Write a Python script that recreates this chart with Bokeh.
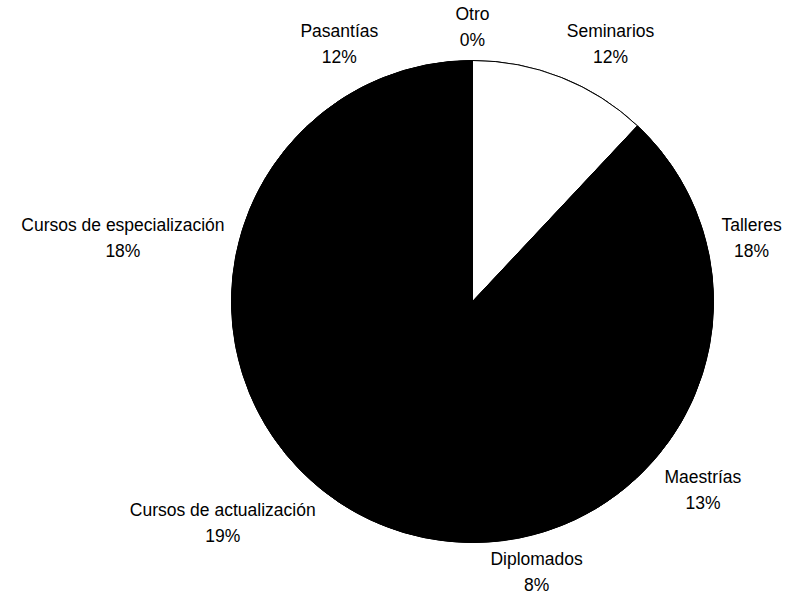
import math
import numpy as np
from bokeh.plotting import figure
from bokeh.models import ColumnDataSource
from bokeh.core.properties import value
from bokeh.embed import file_html
from bokeh.resources import INLINE

# ---- data ----
categories = ["Seminarios", "Talleres", "Maestrías", "Diplomados",
              "Cursos de actualización", "Cursos de especialización",
              "Pasantías", "Otro"]
percents = [12, 18, 13, 8, 19, 18, 12, 0]

# ---- style / layout ----
W, H = 786, 597
CX, CY = 472, 296          # pie centre in plot pixels (y up)
R = 241                    # pie radius
RL = R + 15                # label anchor radius
FS = 17.5                  # font size px
LH = 1.3
HALF_H = 19                # half height of a two-line label block
FONT = "Liberation Sans"
HIGHLIGHT = {"Seminarios": "white"}

# Arial / Liberation Sans advance widths (1/1000 em)
CW = {" ": 278, "%": 889, "a": 556, "b": 556, "c": 500, "d": 556, "e": 556,
      "f": 278, "g": 556, "h": 556, "i": 222, "j": 222, "k": 500, "l": 222,
      "m": 833, "n": 556, "o": 556, "p": 556, "q": 556, "r": 333, "s": 500,
      "t": 278, "u": 556, "v": 500, "w": 722, "x": 500, "y": 500, "z": 500,
      "í": 278, "ó": 556, "C": 722, "D": 722, "M": 833, "O": 778, "P": 667,
      "S": 667, "T": 611}


def text_width(t):
    return sum(CW.get(ch, 556) for ch in t) / 1000.0 * FS


p = figure(width=W, height=H, x_range=(0, W), y_range=(0, H),
           output_backend="svg", toolbar_location=None, min_border=0,
           x_axis_type=None, y_axis_type=None)
p.grid.visible = False
p.outline_line_color = None
p.background_fill_color = "white"
p.border_fill_color = "white"

vals = np.array(percents, dtype=float)
frac = vals / vals.sum()
cum = np.concatenate([[0.0], np.cumsum(frac)])
start = math.pi / 2 - 2 * math.pi * cum[:-1]
end = math.pi / 2 - 2 * math.pi * cum[1:]
mid = (start + end) / 2

# solid disc underneath to avoid seams between black slices
p.scatter(x=[CX], y=[CY], size=2 * R, marker="circle",
          fill_color="black", line_color="black", line_width=1)

colors = [HIGHLIGHT.get(c, "black") for c in categories]
mask = vals > 0
wsrc = ColumnDataSource(dict(
    start=start[mask], end=end[mask],
    color=[c for c, m in zip(colors, mask) if m]))
p.wedge(x=CX, y=CY, radius=R, start_angle="start", end_angle="end",
        direction="clock", fill_color="color", line_color="black",
        line_width=1, source=wsrc)

# ---- labels ----
lx, ly, lt = [], [], []
for cat, pct, a in zip(categories, percents, mid):
    c, s = math.cos(a), math.sin(a)
    fx = math.copysign(min(max((abs(c) - 0.1) / 0.25, 0), 1), c)
    fy = math.copysign(min(max((abs(s) - 0.25) / 0.35, 0), 1), s)
    px, py = CX + RL * c, CY + RL * s
    lines = [cat, f"{pct}%"]
    w = max(text_width(t) for t in lines)
    lx.append(px + fx * w / 2)
    ly.append(py + fy * HALF_H)
    lt.append("\n".join(lines))

p.text(x="x", y="y", text="text", source=ColumnDataSource(dict(x=lx, y=ly, text=lt)),
       text_align="center", text_baseline="middle", text_font=value(FONT),
       text_font_size=f"{FS}px", text_color="black", text_line_height=LH)

open("out.html", "w").write(file_html(p, INLINE))
